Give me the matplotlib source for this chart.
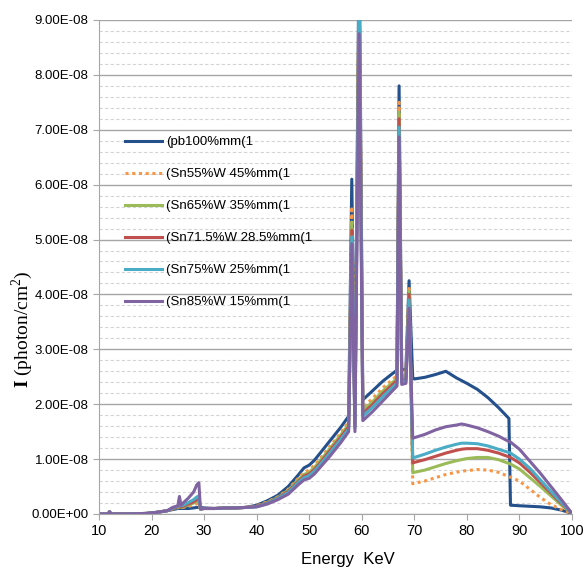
import matplotlib
matplotlib.use("Agg")
import matplotlib.pyplot as plt
import numpy as np
from matplotlib.ticker import MultipleLocator, FuncFormatter

plt.rcParams['font.family'] = ['Liberation Sans', 'DejaVu Sans']
plt.rcParams['mathtext.fontset'] = 'custom'
plt.rcParams['mathtext.rm'] = 'Liberation Serif'
plt.rcParams['mathtext.bf'] = 'Liberation Serif:bold'

# energy (keV) and intensity (units of 1e-8 photon/cm^2)
energy = [10, 11, 11.7, 12, 12.3, 13, 15, 17, 19, 21, 23, 24, 25, 25.3, 25.6, 26, 27, 28, 28.6, 29,
          29.3, 30, 32, 34, 36, 38, 40, 42, 44, 46, 48, 49, 50, 51, 52, 54, 56, 57.5, 58.1, 58.7,
          59.5, 60.2, 62, 64, 66, 66.7, 67.1, 67.6, 68.4, 69.0, 69.7, 70, 72, 74, 76, 78, 79, 80,
          82, 84, 86, 88, 88.3, 90, 92, 94, 96, 98, 100]

pb100 = [0, 0, 0, 0.04, 0, 0, 0, 0.005, 0.01, 0.03, 0.06, 0.08, 0.10, 0.10, 0.10, 0.10, 0.10, 0.11, 0.12, 0.12,
         0.12, 0.11, 0.10, 0.11, 0.11, 0.12, 0.16, 0.24, 0.34, 0.50, 0.72, 0.84, 0.89, 0.98, 1.10, 1.34, 1.58, 1.78, 6.10, 1.82,
         10.5, 2.08, 2.24, 2.42, 2.57, 2.62, 7.80, 2.62, 2.64, 4.25, 2.47, 2.46, 2.49, 2.54, 2.60, 2.48, 2.43, 2.38,
         2.27, 2.12, 1.94, 1.74, 0.16, 0.15, 0.14, 0.13, 0.11, 0.07, 0.01]
sn55 = [0, 0, 0, 0.04, 0, 0, 0, 0.005, 0.01, 0.03, 0.06, 0.09, 0.11, 0.14, 0.11, 0.12, 0.14, 0.16, 0.19, 0.20,
        0.09, 0.10, 0.10, 0.11, 0.11, 0.12, 0.15, 0.22, 0.31, 0.45, 0.66, 0.76, 0.80, 0.89, 1.00, 1.24, 1.48, 1.68, 5.60, 1.70,
        10.1, 1.94, 2.10, 2.30, 2.46, 2.52, 7.50, 2.52, 2.54, 4.15, 0.55, 0.56, 0.60, 0.66, 0.72, 0.76, 0.78, 0.79,
        0.81, 0.80, 0.76, 0.68, 0.67, 0.60, 0.45, 0.30, 0.17, 0.08, 0.01]
sn65 = [0, 0, 0, 0.04, 0, 0, 0, 0.005, 0.01, 0.03, 0.06, 0.10, 0.12, 0.17, 0.12, 0.13, 0.16, 0.20, 0.23, 0.24,
        0.09, 0.10, 0.10, 0.11, 0.11, 0.12, 0.14, 0.21, 0.30, 0.43, 0.63, 0.72, 0.76, 0.85, 0.96, 1.20, 1.44, 1.63, 5.32, 1.65,
        9.8, 1.88, 2.04, 2.24, 2.41, 2.47, 7.32, 2.47, 2.49, 4.06, 0.75, 0.76, 0.80, 0.86, 0.92, 0.97, 0.99, 1.01,
        1.03, 1.03, 0.99, 0.92, 0.91, 0.82, 0.66, 0.50, 0.33, 0.16, 0.01]
sn715 = [0, 0, 0, 0.04, 0, 0, 0, 0.005, 0.01, 0.03, 0.06, 0.10, 0.13, 0.19, 0.13, 0.14, 0.18, 0.22, 0.26, 0.28,
         0.09, 0.10, 0.10, 0.11, 0.11, 0.12, 0.14, 0.20, 0.29, 0.41, 0.60, 0.69, 0.73, 0.81, 0.92, 1.16, 1.40, 1.59, 5.17, 1.60,
         9.6, 1.83, 1.99, 2.19, 2.37, 2.43, 7.20, 2.43, 2.45, 4.00, 0.93, 0.94, 0.99, 1.05, 1.11, 1.16, 1.18, 1.19,
         1.19, 1.16, 1.11, 1.04, 1.03, 0.93, 0.76, 0.57, 0.38, 0.19, 0.01]
sn75 = [0, 0, 0, 0.04, 0, 0, 0, 0.005, 0.01, 0.03, 0.06, 0.11, 0.14, 0.22, 0.15, 0.16, 0.21, 0.26, 0.31, 0.33,
        0.09, 0.10, 0.10, 0.11, 0.11, 0.12, 0.13, 0.19, 0.28, 0.39, 0.58, 0.66, 0.70, 0.78, 0.89, 1.12, 1.36, 1.55, 5.05, 1.56,
        9.4, 1.78, 1.94, 2.14, 2.32, 2.38, 7.05, 2.40, 2.42, 3.90, 1.02, 1.03, 1.09, 1.16, 1.22, 1.27, 1.29, 1.29,
        1.28, 1.24, 1.18, 1.12, 1.11, 1.00, 0.83, 0.62, 0.41, 0.21, 0.01]
sn85 = [0, 0, 0, 0.04, 0, 0, 0, 0.005, 0.01, 0.03, 0.06, 0.12, 0.15, 0.32, 0.16, 0.20, 0.29, 0.40, 0.53, 0.57,
        0.09, 0.10, 0.10, 0.11, 0.11, 0.12, 0.13, 0.18, 0.26, 0.36, 0.54, 0.62, 0.65, 0.73, 0.84, 1.06, 1.30, 1.50, 4.92, 1.50,
        8.75, 1.70, 1.86, 2.06, 2.26, 2.33, 6.87, 2.36, 2.38, 3.75, 1.38, 1.39, 1.45, 1.53, 1.59, 1.62, 1.64, 1.62,
        1.57, 1.50, 1.42, 1.32, 1.31, 1.18, 0.96, 0.74, 0.50, 0.26, 0.01]

labels = ['(pb100%mm(1', '(Sn55%W 45%mm(1', '(Sn65%W 35%mm(1',
          '(Sn71.5%W 28.5%mm(1', '(Sn75%W 25%mm(1', '(Sn85%W 15%mm(1']
series = [pb100, sn55, sn65, sn715, sn75, sn85]
colors = ['#24508C', '#F79646', '#9BBB59', '#C0504D', '#4BACC6', '#8064A2']
styles = ['-', (0, (1, 1.2)), '-', '-', '-', '-']

fig = plt.figure(figsize=(5.87, 5.68), dpi=100)
ax = fig.add_axes([0.1687, 0.0951, 0.8057, 0.8697])

e = np.array(energy)
for vals, lab, col, ls in zip(series, labels, colors, styles):
    ax.plot(e, np.array(vals) * 1e-8, color=col, ls=ls, lw=2.2, label=lab, solid_joinstyle='round')

ax.set_xlim(10, 100)
ax.set_ylim(0, 9e-8)
ax.xaxis.set_major_locator(MultipleLocator(10))
ax.yaxis.set_major_locator(MultipleLocator(1e-8))
ax.yaxis.set_minor_locator(MultipleLocator(0.2e-8))
ax.yaxis.set_major_formatter(FuncFormatter(lambda v, p: f"{v:.2E}"))
ax.grid(axis='y', which='major', color='#A6A6A6', lw=1)
ax.grid(axis='y', which='minor', color='#D4D4D4', lw=0.8, ls=(0, (3, 2)))
ax.set_axisbelow(True)
for s in ['top', 'right']:
    ax.spines[s].set_visible(False)
for s in ['left', 'bottom']:
    ax.spines[s].set_color('#A6A6A6')
ax.tick_params(axis='both', which='major', direction='out', length=4, color='#A6A6A6', labelsize=10.5)
ax.tick_params(axis='y', which='minor', length=0)
ax.tick_params(axis='y', labelsize=9.5)

ax.legend(loc='upper left', bbox_to_anchor=(0.055, 0.765), frameon=False, fontsize=9.5,
          handlelength=2.8, handletextpad=0.3, labelspacing=1.5, borderpad=0, borderaxespad=0)

fig.text(0.037, 0.42, r"$\mathbf{I}$ (photon/cm$^2$)", rotation=90, ha='center', va='center',
         fontsize=14, family='Liberation Serif')
fig.text(0.593, 0.029, "Energy  KeV", ha='center', va='top', fontsize=12)

fig.savefig('out.png', dpi=100)
